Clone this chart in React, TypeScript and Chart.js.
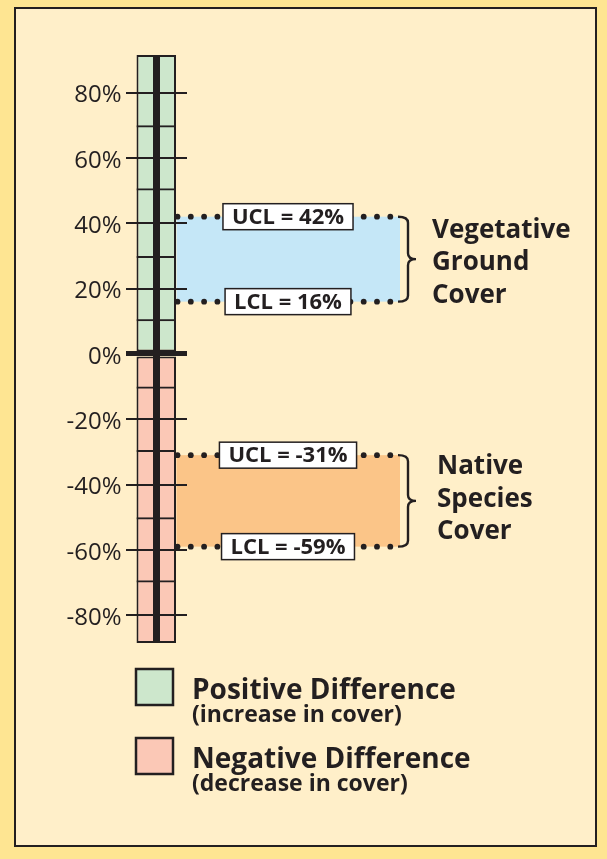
import React, { useEffect, useRef } from 'react';
import { Chart, registerables } from 'chart.js';

Chart.register(...registerables);

// ---------- data ----------
const AXIS_MAX = 91.5;
const AXIS_MIN = -88.5;
const TICK_VALUES = [-80, -70, -60, -50, -40, -30, -20, -10, 0, 10, 20, 30, 40, 50, 60, 70, 80];
const LABELED_TICKS = [-80, -60, -40, -20, 0, 20, 40, 60, 80];
const MINOR_SPANS = [[10, 30], [50, 70], [-30, -10], [-70, -50]];
const BAR_CATEGORY = ['Difference'];
const POSITIVE_RANGE = [0, 91.5];
const NEGATIVE_RANGE = [-88.5, 0];
const INDICATORS = ['Vegetative Ground Cover', 'Native Species Cover'];
const UCL = [42, -31];
const LCL = [16, -59];
const LEGEND_TITLES = ['Positive Difference', 'Negative Difference'];
const LEGEND_NOTES = ['(increase in cover)', '(decrease in cover)'];

// ---------- styles ----------
const W = 607;
const H = 859;
const DARK = '#231f20';
const OUTER_BG = '#fee592';
const PANEL_BG = '#ffefc9';
const GREEN = '#cde7cc';
const PINK = '#fbc8b6';
const BAND_COLORS = ['#c5e7f7', '#fbc588'];
const FONT = '"Open Sans", "DejaVu Sans", sans-serif';

const AREA_LEFT = 125.5;
const AREA_RIGHT = 187;
const BAR_LEFT = 137;
const BAR_RIGHT = 176.5;
const BAND_RIGHT = 400;
const BOX_CENTER_X = 288;
const NAME_X = [432, 437];
const NAME_DY = [11, 6];

function drawBrace(ctx: CanvasRenderingContext2D, x: number, y1: number, y2: number) {
  const spine = x + 8;
  const tip = x + 16;
  const m = (y1 + y2) / 2;
  const r = 6;
  ctx.beginPath();
  ctx.moveTo(x - 2, y1);
  ctx.quadraticCurveTo(spine, y1, spine, y1 + r);
  ctx.lineTo(spine, m - r);
  ctx.quadraticCurveTo(spine, m, tip, m);
  ctx.quadraticCurveTo(spine, m, spine, m + r);
  ctx.lineTo(spine, y2 - r);
  ctx.quadraticCurveTo(spine, y2, x - 2, y2);
  ctx.stroke();
}

const decorPlugin = {
  id: 'decor',
  beforeDatasetsDraw(chart: any) {
    const ctx: CanvasRenderingContext2D = chart.ctx;
    const y = chart.scales.y;
    ctx.save();
    INDICATORS.forEach((name, i) => {
      const yU = y.getPixelForValue(UCL[i]);
      const yL = y.getPixelForValue(LCL[i]);
      const x0 = BAR_RIGHT;
      ctx.fillStyle = BAND_COLORS[i];
      ctx.fillRect(x0, yU, BAND_RIGHT - x0, yL - yU);
      ctx.fillStyle = DARK;
      [yU, yL].forEach((yy) => {
        for (let x = x0 + 1; x <= BAND_RIGHT - 2; x += 13.3) {
          ctx.beginPath();
          ctx.arc(x, yy, 2.9, 0, Math.PI * 2);
          ctx.fill();
        }
      });
      const labels = ['UCL = ' + UCL[i] + '%', 'LCL = ' + LCL[i] + '%'];
      [yU, yL].forEach((yy, k) => {
        ctx.font = '700 22px ' + FONT;
        const tw = ctx.measureText(labels[k]).width;
        const bw = tw + 18;
        const bh = 26;
        ctx.fillStyle = '#ffffff';
        ctx.fillRect(BOX_CENTER_X - bw / 2, yy - bh / 2, bw, bh);
        ctx.strokeStyle = DARK;
        ctx.lineWidth = 1.5;
        ctx.strokeRect(BOX_CENTER_X - bw / 2, yy - bh / 2, bw, bh);
        ctx.fillStyle = DARK;
        ctx.textAlign = 'center';
        ctx.textBaseline = 'middle';
        ctx.fillText(labels[k], BOX_CENTER_X, yy + 1);
      });
      ctx.strokeStyle = DARK;
      ctx.lineWidth = 2.4;
      drawBrace(ctx, BAND_RIGHT, yU, yL);
      const words = name.split(' ');
      ctx.font = '700 26px ' + FONT;
      ctx.textAlign = 'left';
      ctx.textBaseline = 'alphabetic';
      ctx.fillStyle = DARK;
      const mid = (yU + yL) / 2 + NAME_DY[i];
      words.forEach((w, j) => {
        ctx.fillText(w, NAME_X[i], mid + (j - 1) * 32.5);
      });
    });
    const colors = [GREEN, PINK];
    LEGEND_TITLES.forEach((t, i) => {
      const top = 669 + i * 69;
      ctx.fillStyle = colors[i];
      ctx.fillRect(136, top, 37, 36);
      ctx.strokeStyle = DARK;
      ctx.lineWidth = 2.5;
      ctx.strokeRect(136, top, 37, 36);
      ctx.fillStyle = DARK;
      ctx.textAlign = 'left';
      ctx.textBaseline = 'alphabetic';
      ctx.font = '700 28px ' + FONT;
      ctx.fillText(t, 192, top + 29.5);
      ctx.font = '700 23px ' + FONT;
      ctx.fillText(LEGEND_NOTES[i], 192, top + 53);
    });
    ctx.beginPath();
    ctx.restore();
  },
};

export default function App() {
  const ref = useRef<HTMLCanvasElement | null>(null);
  useEffect(() => {
    if (!ref.current) return;
    const barShare = (BAR_RIGHT - BAR_LEFT) / (AREA_RIGHT - AREA_LEFT);
    const common = {
      borderColor: DARK,
      borderSkipped: false,
      barPercentage: barShare,
      categoryPercentage: 1,
      grouped: false,
    };
    const minorSets = MINOR_SPANS.map((span) => ({
      label: 'grid',
      data: [span as any],
      backgroundColor: 'rgba(0,0,0,0)',
      borderWidth: { top: 2, bottom: 2, left: 0, right: 0 },
      order: 0,
      ...common,
    }));
    const chart = new Chart(ref.current, {
      type: 'bar',
      data: {
        labels: BAR_CATEGORY,
        datasets: [
          ...minorSets,
          { label: LEGEND_TITLES[0], data: [POSITIVE_RANGE as any], backgroundColor: GREEN, borderWidth: 2, order: 1, ...common },
          { label: LEGEND_TITLES[1], data: [NEGATIVE_RANGE as any], backgroundColor: PINK, borderWidth: 2, order: 1, ...common },
        ],
      } as any,
      options: {
        responsive: false,
        animation: false,
        events: [],
        layout: { padding: { top: 55, bottom: 216, left: 0, right: W - AREA_RIGHT } },
        plugins: { legend: { display: false }, tooltip: { enabled: false } },
        scales: {
          x: {
            display: true,
            offset: true,
            grid: { offset: false, color: DARK, lineWidth: 7, drawTicks: false, z: 2 } as any,
            border: { display: false },
            ticks: { display: false },
            afterFit: (s: any) => {
              s.height = 0;
            },
          },
          y: {
            position: 'left',
            min: AXIS_MIN,
            max: AXIS_MAX,
            afterBuildTicks: (s: any) => {
              s.ticks = TICK_VALUES.map((v) => ({ value: v }));
            },
            grid: {
              z: 1,
              color: (c: any) =>
                c.tick && LABELED_TICKS.includes(c.tick.value) ? DARK : 'rgba(0,0,0,0)',
              lineWidth: (c: any) => (c.tick && c.tick.value === 0 ? 5 : 2),
              drawTicks: false,
            } as any,
            border: { display: false },
            ticks: {
              padding: 4,
              labelOffset: 3,
              color: DARK,
              font: { family: FONT, size: 24 },
              callback: (v: any) => (LABELED_TICKS.includes(Number(v)) ? v + '%' : ''),
            },
            afterFit: (s: any) => {
              s.width = AREA_LEFT;
            },
          },
        } as any,
      },
      plugins: [decorPlugin],
    });
    return () => chart.destroy();
  }, []);
  return (
    <div style={{ position: 'fixed', left: 0, top: 0, width: W, height: H, background: OUTER_BG }}>
      <div
        style={{
          position: 'absolute',
          left: 14,
          top: 7,
          width: 583,
          height: 840,
          boxSizing: 'border-box',
          border: '2.5px solid ' + DARK,
          background: PANEL_BG,
        }}
      />
      <canvas
        ref={ref}
        width={W}
        height={H}
        style={{ position: 'absolute', left: 0, top: 0, display: 'block', width: W, height: H }}
      />
    </div>
  );
}
